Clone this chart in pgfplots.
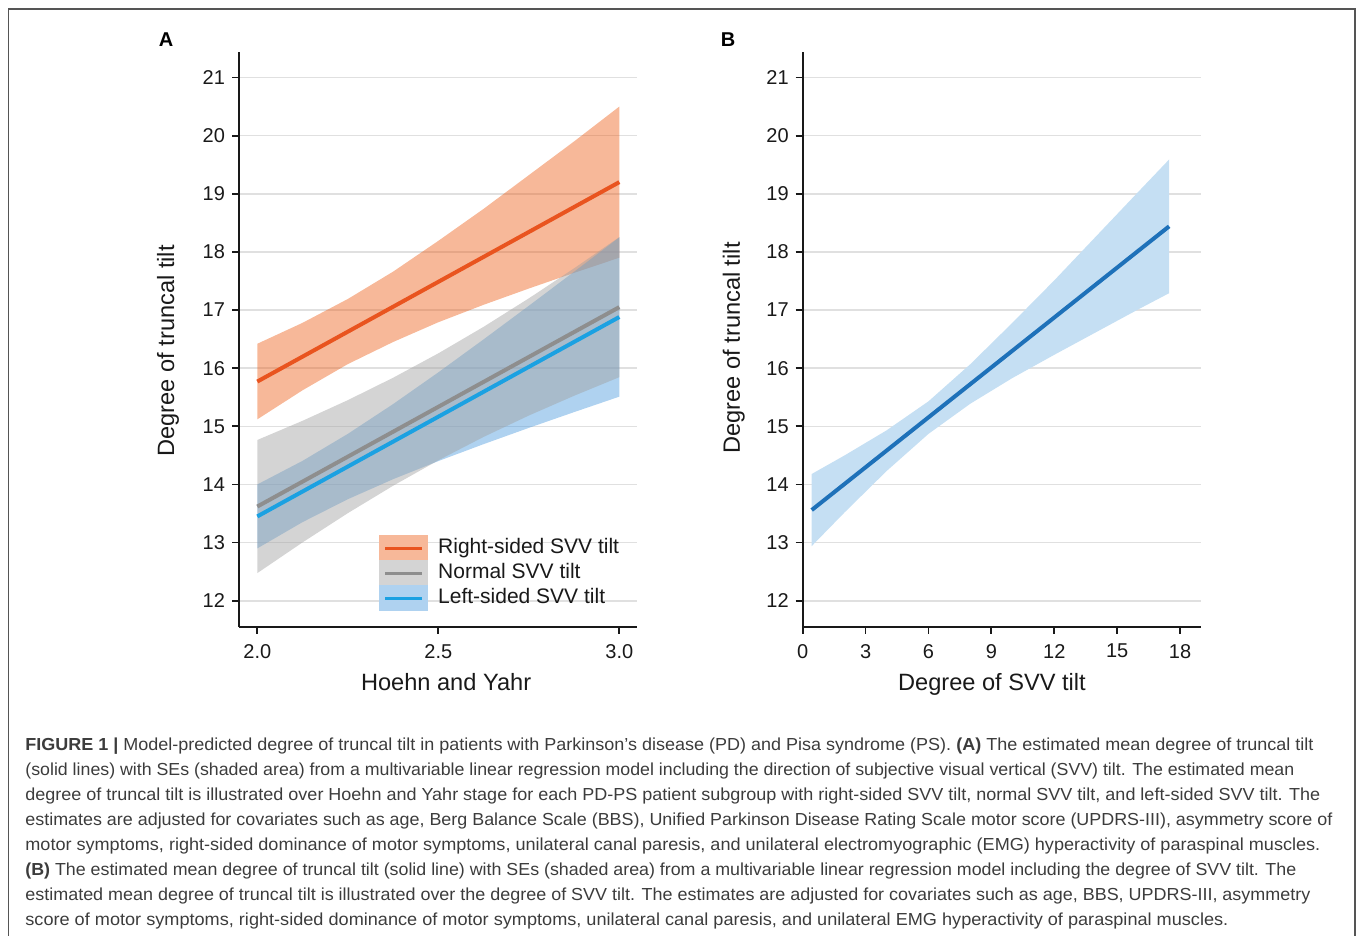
\documentclass[border=0pt]{standalone}
\usepackage{fontspec}
\setmainfont{Liberation Sans}
\usepackage{graphicx}
\usepackage{pgfplots}
\pgfplotsset{compat=1.18}
\usepackage{pgfplotstable}

\definecolor{redline}{HTML}{E9541F}
\definecolor{orangefill}{RGB}{237,97,28}
\definecolor{orangeleg}{RGB}{247,184,153}
\definecolor{grayline}{HTML}{8E8E8E}
\definecolor{grayfill}{RGB}{160,160,160}
\definecolor{grayleg}{RGB}{212,212,212}
\definecolor{blueline}{HTML}{1BA1E2}
\definecolor{bluefill}{RGB}{77,155,222}
\definecolor{blueleg}{RGB}{175,210,240}
\definecolor{bline}{HTML}{1E71B9}
\definecolor{bfill}{HTML}{C5DFF3}
\definecolor{gridc}{RGB}{224,224,224}
\definecolor{framec}{RGB}{85,85,85}
\definecolor{capc}{RGB}{60,60,60}

\pgfplotstableread{
x mid
2.000 15.770
3.000 19.200
}\redtab
\pgfplotstableread{
x mid
2.000 13.620
3.000 17.050
}\graytab
\pgfplotstableread{
x mid
2.000 13.450
3.000 16.880
}\bluetab
\pgfplotstableread{
x mid
0.43 13.56
17.48 18.44
}\btab

\pgfplotsset{common/.style={
  scale only axis, width=199.15bp, height=287.65bp,
  axis x line*=bottom, axis y line*=left,
  axis line style={black!90, line width=1bp},
  ymin=11.548, ymax=21.444, ytick={12,13,...,21},
  ymajorgrids, grid style={gridc, line width=0.8bp},
  tick align=outside, major tick length=3.5bp,
  tick style={black!90, line width=0.9bp},
  ticklabel style={font=\fontsize{10bp}{12bp}\selectfont, text=black!90},
  xticklabel style={yshift=-1.5bp},
  /pgf/number format/assume math mode=true,
  label style={font=\fontsize{11.8bp}{14bp}\selectfont, text=black!90},
  ylabel={Degree of truncal tilt},
}}

\newlength\capw
\newcommand\capline[2]{\settowidth\capw{#2}\pgfmathsetmacro\capf{#1bp/\capw}\scalebox{\capf}[1]{#2}}
\newcommand\capfont{\fontsize{8.7bp}{12.5bp}\selectfont}

\begin{document}
\begin{tikzpicture}
\path[use as bounding box] (0,0) rectangle (678.5bp,468bp);

% Panel A
\begin{axis}[common, at={(119.5bp,154.5bp)}, anchor=south west,
  xmin=1.9494, xmax=3.0497, xtick={2,2.5,3}, xticklabels={2.0,2.5,3.0},
  xlabel={Hoehn and Yahr},
  xlabel style={at={(axis description cs:0.52,-0.111)}, anchor=base},
  ylabel style={at={(axis description cs:-0.163,0.48)}, anchor=base},
  legend style={at={(axis description cs:0.351,0.16)}, anchor=north west,
    draw=none, fill=none, inner sep=0pt, row sep=-0.5bp,
    font=\fontsize{10.5bp}{12bp}\selectfont, text=black!90,
    nodes={inner xsep=0pt, inner ysep=0pt, text height=7.8bp, text depth=2.3bp}},
  legend cell align=left]
\addplot[fill=orangefill, fill opacity=0.45, draw=none, forget plot] coordinates {
 (2,16.42)(2.125,16.78)(2.25,17.19)(2.375,17.66)(2.5,18.19)(2.625,18.74)(2.75,19.32)(2.875,19.90)(3,20.50)
 (3,17.90)(2.875,17.64)(2.75,17.37)(2.625,17.09)(2.5,16.79)(2.375,16.45)(2.25,16.07)(2.125,15.62)(2,15.12)};
\addplot[fill=bluefill, fill opacity=0.45, draw=none, forget plot] coordinates {
 (2,14.00)(2.125,14.406)(2.25,14.87)(2.375,15.382)(2.5,15.928)(2.625,16.495)(2.75,17.073)(2.875,17.658)(3,18.25)
 (3,15.51)(2.875,15.244)(2.75,14.973)(2.625,14.693)(2.5,14.402)(2.375,14.09)(2.25,13.746)(2.125,13.352)(2,12.90)};
\addplot[fill=grayfill, fill opacity=0.45, draw=none, forget plot] coordinates {
 (2,14.765)(2.125,15.095)(2.25,15.45)(2.375,15.835)(2.5,16.255)(2.625,16.711)(2.75,17.201)(2.875,17.717)(3,18.255)
 (3,15.845)(2.875,15.525)(2.75,15.185)(2.625,14.817)(2.5,14.415)(2.375,13.977)(2.25,13.506)(2.125,13.003)(2,12.475)};

\addplot[redline, line width=2bp,
  legend image code/.code={\fill[orangeleg] (0bp,-5.5bp) rectangle (22.5bp,5.5bp);
    \draw[redline, line width=1.6bp] (2bp,0bp) -- (20.5bp,0bp); \path (27.5bp,0bp);}]
  table[x=x,y=mid]{\redtab};
\addlegendentry{Right-sided SVV tilt}
\addplot[grayline, line width=2bp,
  legend image code/.code={\fill[grayleg] (0bp,-5.5bp) rectangle (22.5bp,5.5bp);
    \draw[grayline, line width=1.6bp] (2bp,0bp) -- (20.5bp,0bp); \path (27.5bp,0bp);}]
  table[x=x,y=mid]{\graytab};
\addlegendentry{Normal SVV tilt}
\addplot[blueline, line width=2bp,
  legend image code/.code={\fill[blueleg] (0bp,-5.5bp) rectangle (22.5bp,5.5bp);
    \draw[blueline, line width=1.6bp] (2bp,0bp) -- (20.5bp,0bp); \path (27.5bp,0bp);}]
  table[x=x,y=mid]{\bluetab};
\addlegendentry{Left-sided SVV tilt}
\end{axis}

% Panel B
\begin{axis}[common, at={(401.35bp,154.5bp)}, anchor=south west,
  xmin=0, xmax=19.0, xtick={0,3,...,18},
  xlabel={Degree of SVV tilt},
  xlabel style={at={(axis description cs:0.475,-0.111)}, anchor=base},
  ylabel style={at={(axis description cs:-0.158,0.485)}, anchor=base}]
\addplot[fill=bfill, draw=none, forget plot] coordinates {
 (0.43,14.18)(2,14.50)(4,14.93)(6,15.43)(8,16.07)(10,16.78)(12,17.51)(14,18.27)(16,19.03)(17.48,19.59)
 (17.48,17.29)(16,17.01)(14,16.62)(12,16.23)(10,15.83)(8,15.39)(6,14.87)(4,14.23)(2,13.52)(0.43,12.94)};
\addplot[bline, line width=2bp] table[x=x,y=mid]{\btab};
\end{axis}

\begin{scope}[shift={(0,468bp)}, x=0.5bp, y=-0.5bp]
\draw[framec, line width=0.75bp] (8.5,940) -- (8.5,9) -- (1355,9) -- (1355,940);
\node[anchor=base, inner sep=0pt, font=\fontsize{10bp}{12bp}\selectfont\bfseries] at (166,47) {A};
\node[anchor=base, inner sep=0pt, font=\fontsize{10bp}{12bp}\selectfont\bfseries] at (728,47) {B};
\begin{scope}[every node/.style={anchor=base west, inner sep=0pt, text=capc}]
\node at (25,751) {\capfont\capline{644}{{\bfseries FIGURE 1 |} Model-predicted degree of truncal tilt in patients with Parkinson’s disease (PD) and Pisa syndrome (PS). {\bfseries (A)} The estimated mean degree of truncal tilt}};
\node at (25,776) {\capfont\capline{634.5}{(solid lines) with SEs (shaded area) from a multivariable linear regression model including the direction of subjective visual vertical (SVV) tilt. The estimated mean}};
\node at (25,801) {\capfont\capline{647.5}{degree of truncal tilt is illustrated over Hoehn and Yahr stage for each PD-PS patient subgroup with right-sided SVV tilt, normal SVV tilt, and left-sided SVV tilt. The}};
\node at (25,826) {\capfont\capline{653.5}{estimates are adjusted for covariates such as age, Berg Balance Scale (BBS), Unified Parkinson Disease Rating Scale motor score (UPDRS-III), asymmetry score of}};
\node at (25,851) {\capfont\capline{647.5}{motor symptoms, right-sided dominance of motor symptoms, unilateral canal paresis, and unilateral electromyographic (EMG) hyperactivity of paraspinal muscles.}};
\node at (25,876) {\capfont\capline{635.5}{{\bfseries (B)} The estimated mean degree of truncal tilt (solid line) with SEs (shaded area) from a multivariable linear regression model including the degree of SVV tilt. The}};
\node at (25,901) {\capfont\capline{642.5}{estimated mean degree of truncal tilt is illustrated over the degree of SVV tilt. The estimates are adjusted for covariates such as age, BBS, UPDRS-III, asymmetry}};
\node at (25,926) {\capfont\capline{601.5}{score of motor symptoms, right-sided dominance of motor symptoms, unilateral canal paresis, and unilateral EMG hyperactivity of paraspinal muscles.}};
\end{scope}
\end{scope}
\end{tikzpicture}
\end{document}
